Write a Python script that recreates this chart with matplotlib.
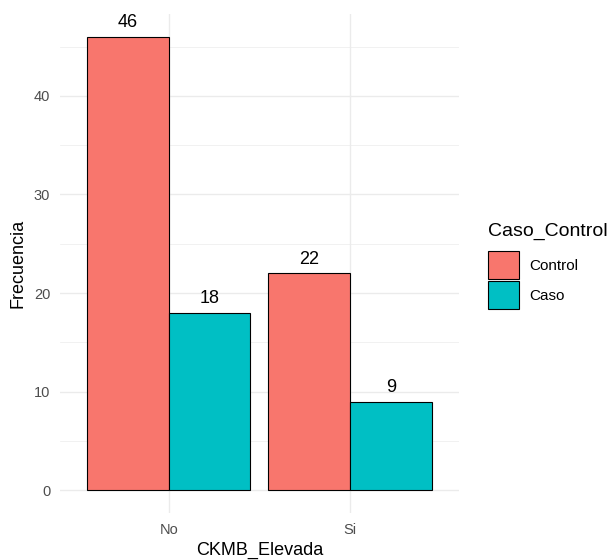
import numpy as np
import matplotlib.pyplot as plt
from matplotlib.patches import Patch

plt.rcParams['font.family'] = ['Liberation Sans', 'DejaVu Sans']

categories = ["No", "Si"]
groups = ["Control", "Caso"]
control_vals = [46, 22]
caso_vals = [18, 9]
colors = ["#F8766D", "#00BFC4"]

fig = plt.figure(figsize=(6.09, 5.6), dpi=100)
ax = fig.add_axes([0.0985, 0.084, 0.655, 0.891])

x = np.arange(1, len(categories) + 1)
w = 0.45
series = [control_vals, caso_vals]
for i, (vals, col) in enumerate(zip(series, colors)):
    xpos = x + (i - 0.5) * w
    ax.bar(xpos, vals, width=w, color=col, edgecolor="black", linewidth=0.8, zorder=3)
    for xp, v in zip(xpos, vals):
        ax.text(xp, v + 0.55, str(v), ha="center", va="bottom", fontsize=13, color="black")

ymax = max(control_vals)
ax.set_xlim(0.4, 2.6)
ax.set_ylim(-ymax * 0.05, ymax * 1.05)
ax.set_xticks(x)
ax.set_xticklabels(categories)
ax.set_yticks([0, 10, 20, 30, 40])
ax.set_yticks([5, 15, 25, 35, 45], minor=True)
ax.grid(True, which="major", color="#EBEBEB", linewidth=1.0, zorder=0)
ax.grid(True, which="minor", axis="y", color="#EBEBEB", linewidth=0.5, zorder=0)
ax.tick_params(which="both", length=0, labelsize=10.5, colors="#4D4D4D", pad=7)
for s in ax.spines.values():
    s.set_visible(False)

ax.set_xlabel("CKMB_Elevada", fontsize=13, labelpad=4)
ax.set_ylabel("Frecuencia", fontsize=13, labelpad=5)

handles = [Patch(facecolor=c, edgecolor="black", linewidth=0.8) for c in colors]
leg = fig.legend(handles, groups, title="Caso_Control", loc="upper left",
                 bbox_to_anchor=(0.797, 0.607), frameon=False, fontsize=11,
                 title_fontsize=14, handlelength=2.0, handleheight=2.4,
                 handletextpad=0.7, labelspacing=0.15, borderpad=0.2,
                 borderaxespad=0)
leg._legend_box.align = "left"
leg._legend_box.sep = 8

fig.savefig("out.png", dpi=100)
